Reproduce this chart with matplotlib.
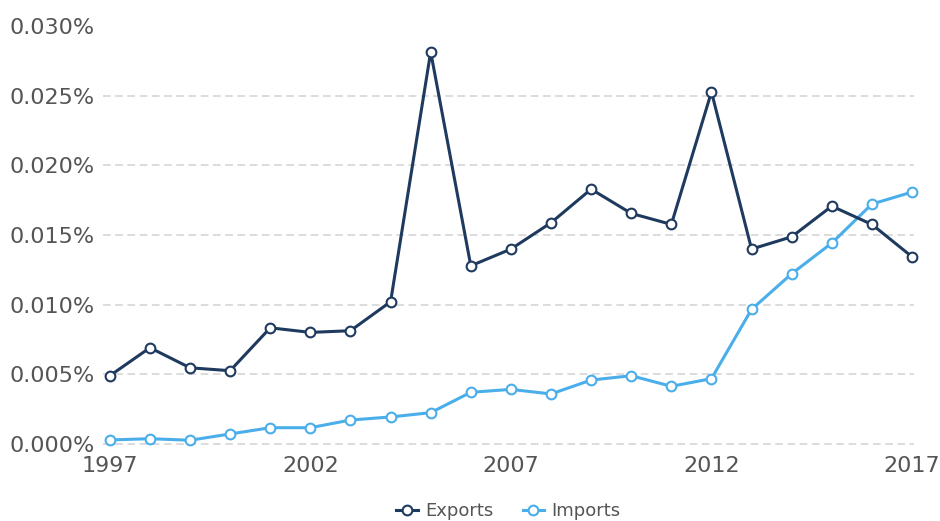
import matplotlib
matplotlib.use('Agg')
from matplotlib import pyplot as plt
from matplotlib.ticker import FuncFormatter

years = list(range(1997, 2018))
# share in percent
exports = [0.0049, 0.00691, 0.00547, 0.00526, 0.00834, 0.00801, 0.00813, 0.01021,
           0.02814, 0.01279, 0.01399, 0.01588, 0.01829, 0.01655, 0.01576, 0.02527,
           0.01399, 0.01487, 0.01707, 0.01576, 0.01344]
imports = [0.00029, 0.00038, 0.00027, 0.00072, 0.00117, 0.00117, 0.00172, 0.00194,
           0.00225, 0.00371, 0.00392, 0.00359, 0.00459, 0.0049, 0.00414, 0.00469,
           0.00966, 0.01222, 0.01442, 0.01722, 0.01808]
yticks = [0.0, 0.005, 0.010, 0.015, 0.020, 0.025, 0.030]
xticks = [1997, 2002, 2007, 2012, 2017]

dark = '#1f3a5f'
light = '#4aaeea'
grey = '#555555'

fig = plt.figure(figsize=(9.4, 5.21), dpi=100)
ax = fig.add_axes([103/940, 77/521, 811/940, 418/521])

for v in yticks[:-1]:
    ax.axhline(v, color='#d2d2d2', lw=1.1, ls=(0, (5, 3)), zorder=0, clip_on=False)

ax.plot(years, exports, color=dark, lw=2.2, marker='o', ms=7,
        mfc='white', mec=dark, mew=1.5, label='Exports', zorder=3, clip_on=False)
ax.plot(years, imports, color=light, lw=2.2, marker='o', ms=7,
        mfc='white', mec=light, mew=1.5, label='Imports', zorder=2, clip_on=False)

ax.set_xlim(1996.83, 2017.05)
ax.set_ylim(0, 0.030)
ax.set_xticks(xticks)
ax.set_yticks(yticks)
ax.yaxis.set_major_formatter(FuncFormatter(lambda v, p: '{:.3f}%'.format(v)))
ax.tick_params(length=0, labelsize=16, labelcolor=grey)
ax.tick_params(axis='x', pad=9)
ax.tick_params(axis='y', pad=6)
for s in ax.spines.values():
    s.set_visible(False)

leg = ax.legend(loc='upper center', bbox_to_anchor=(0.5, -0.10), ncol=2,
                frameon=False, fontsize=13, handlelength=1.2, columnspacing=1.6,
                handletextpad=0.4)
for t in leg.get_texts():
    t.set_color(grey)

fig.savefig('out.png', dpi=100)
